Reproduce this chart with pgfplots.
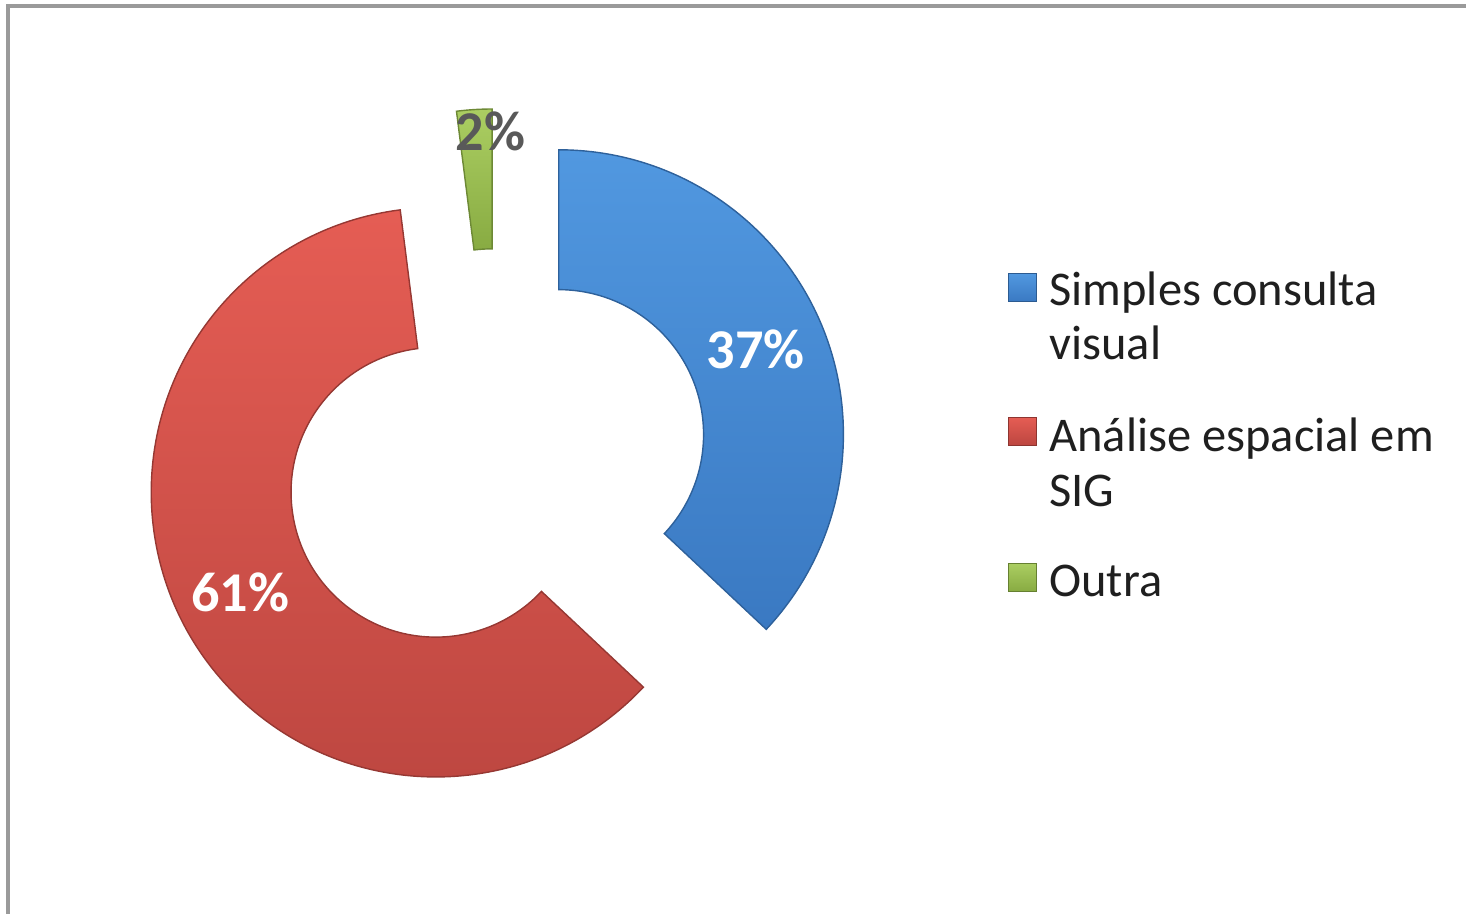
\documentclass[border=0pt]{standalone}
\usepackage{pgfplots}
\pgfplotsset{compat=1.18}
\usepackage{pgfplotstable}
\usetikzlibrary{calc}
\usepackage{fontspec}
\setmainfont{Carlito}
\definecolor{bluetop}{HTML}{5198E0}
\definecolor{bluebot}{HTML}{3A79C2}
\definecolor{redtop}{HTML}{E55D54}
\definecolor{redbot}{HTML}{BC4640}
\definecolor{greentop}{HTML}{ABCE62}
\definecolor{greenbot}{HTML}{88AB42}
\definecolor{framegray}{HTML}{9A9A9A}
\pgfplotstableread{
value
37
61
2
}\piedata
\pgfplotstablegetelem{0}{value}\of\piedata \let\vA\pgfplotsretval
\pgfplotstablegetelem{1}{value}\of\piedata \let\vB\pgfplotsretval
\pgfplotstablegetelem{2}{value}\of\piedata \let\vC\pgfplotsretval
\pgfmathsetmacro\aA{90}
\pgfmathsetmacro\aB{\aA-3.6*\vA}
\pgfmathsetmacro\aC{\aB-3.6*\vB}
\pgfmathsetmacro\aD{\aC-3.6*\vC}
\pgfmathsetmacro\mA{(\aA+\aB)/2}
\pgfmathsetmacro\mB{(\aB+\aC)/2}
\pgfmathsetmacro\mC{(\aC+\aD)/2}
\begin{document}
\begin{tikzpicture}
\begin{axis}[scale only axis, width=14.68cm, height=9.15cm,
  xmin=0, xmax=1468, ymin=0, ymax=915, hide axis, clip=false]
\path (axis cs:0,0) rectangle (axis cs:1468,915);
% frame
\draw[framegray, line width=1pt] (axis cs:8,0) -- (axis cs:8,909) -- (axis cs:1468,909);
% blue slice
\fill[top color=bluetop, bottom color=bluebot, draw=bluebot!80!black, line width=0.4pt]
  ($(axis cs:497,453)+(\mA:0.68cm)+(\aA:2.85cm)$) arc[start angle=\aA, end angle=\aB, radius=2.85cm]
  -- ($(axis cs:497,453)+(\mA:0.68cm)+(\aB:1.45cm)$) arc[start angle=\aB, end angle=\aA, radius=1.45cm] -- cycle;
% red slice
\fill[top color=redtop, bottom color=redbot, draw=redbot!80!black, line width=0.4pt]
  ($(axis cs:497,453)+(\mB:0.68cm)+(\aB:2.85cm)$) arc[start angle=\aB, end angle=\aC, radius=2.85cm]
  -- ($(axis cs:497,453)+(\mB:0.68cm)+(\aC:1.45cm)$) arc[start angle=\aC, end angle=\aB, radius=1.45cm] -- cycle;
% green slice
\fill[top color=greentop, bottom color=greenbot, draw=greenbot!80!black, line width=0.4pt]
  ($(axis cs:497,453)+(\mC:0.68cm)+(\aC:2.85cm)$) arc[start angle=\aC, end angle=\aD, radius=2.85cm]
  -- ($(axis cs:497,453)+(\mC:0.68cm)+(\aD:1.45cm)$) arc[start angle=\aD, end angle=\aC, radius=1.45cm] -- cycle;
% data labels
\node[white, font=\fontsize{16pt}{19pt}\selectfont\bfseries] at ($(axis cs:497,453)+(\mA:0.68cm)+(\mA:2.15cm)$) {\vA\%};
\node[white, font=\fontsize{16pt}{19pt}\selectfont\bfseries] at ($(axis cs:497,453)+(\mB:0.68cm)+(\mB:2.2cm)$) {\vB\%};
\node[black!65, font=\fontsize{16pt}{19pt}\selectfont\bfseries, xshift=0.15cm] at ($(axis cs:497,453)+(\mC:0.68cm)+(\mC:2.63cm)$) {\vC\%};
% legend
\fill[top color=bluetop, bottom color=bluebot, draw=bluebot!75!black, line width=0.3pt] (axis cs:1010,613) rectangle (axis cs:1038,641);
\fill[top color=redtop, bottom color=redbot, draw=redbot!75!black, line width=0.3pt] (axis cs:1010,469) rectangle (axis cs:1038,497);
\fill[top color=greentop, bottom color=greenbot, draw=greenbot!75!black, line width=0.3pt] (axis cs:1010,323) rectangle (axis cs:1038,351);
\begin{scope}[every node/.style={anchor=base west, inner sep=0pt, text=black!88, font=\fontsize{13.8pt}{16pt}\selectfont}]
\node at (axis cs:1050,609) {Simples consulta};
\node at (axis cs:1050,555) {visual};
\node at (axis cs:1050,463) {Análise espacial em};
\node at (axis cs:1050,408) {SIG};
\node at (axis cs:1050,318) {Outra};
\end{scope}
\end{axis}
\end{tikzpicture}
\end{document}
